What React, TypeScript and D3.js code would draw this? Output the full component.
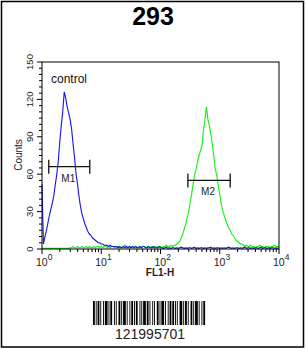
import React from "react";
import * as d3 from "d3";

const title = "293";
const xTickExps = [0, 1, 2, 3, 4];
const yTicks = [0, 30, 60, 90, 120, 150];
const binStep = 0.025; // decades per channel

const blueCounts = [
  52, 4, 10, 15, 21, 27, 32, 37, 43, 52,
  60, 71, 86, 99, 110, 126, 121, 114, 109, 104,
  96, 84, 73, 60, 52, 42, 34, 28, 24, 20,
  17, 14, 12, 11, 9, 8, 7, 6, 5, 5,
  4, 4, 3, 3, 3, 2, 3, 2, 2, 2,
  2, 1, 2, 1, 1, 2, 1, 2, 1, 2,
  1, 2, 1, 2, 1, 1, 2, 1, 2, 2,
  1, 1, 2, 1, 1, 2, 1, 1, 1, 2,
  1, 1, 0.5, 1, 1.5, 0.5, 1, 0.5, 1, 1,
  0.5, 1, 0.5, 1, 1.5, 1, 0.5, 1, 0.5, 1,
  1, 0.5, 1, 1.5, 0.5, 1, 0.5, 1, 1, 0.5,
  1, 0.5, 1, 1, 1.5, 0.5, 1, 0.5, 1, 1,
  0.5, 1, 0.5, 1, 0.5, 1, 1.5, 1, 0.5, 1,
  0.5, 1, 1, 0.5, 1, 0.5, 1, 1.5, 0.5, 1,
  1, 0.5, 1, 0.5, 1, 1, 0.5, 1, 1.5, 0.5,
  1, 1, 0.5, 1, 0.5, 1, 1, 0.5, 1, 0.5,
  1,
];

const greenCounts = [
  0.5, 0.5, 0.5, 0.5, 0.5, 0.5, 0.5, 0.5, 0.5, 0.5,
  0.5, 0.5, 0.5, 0.5, 0.5, 0.5, 0.5, 0.5, 0.5,
  1, 1, 2, 1, 1, 2, 1, 1, 2, 1,
  1, 2, 1, 2, 1, 1, 2, 1, 2, 2,
  1, 2, 1, 2, 3, 1, 2, 1, 2, 2,
  1, 2, 2, 1, 2, 1, 2, 3, 2, 1,
  2, 1, 2, 1, 2, 2, 1, 2, 1, 2,
  2, 1, 2, 2, 1, 2, 1, 2, 2, 1,
  2, 2, 1, 2, 2, 3, 2, 2, 3,
  2, 3, 3, 4, 5, 6, 9, 12, 16, 20,
  25, 30, 37, 44, 52, 59, 64, 70, 75, 79,
  83, 95, 104, 114, 104, 99, 92, 84, 74, 64,
  59, 51, 44, 36, 31, 27, 23, 20, 17, 15,
  12, 11, 9, 7, 6, 5, 4, 4,
  3, 2, 3, 2, 2, 3, 2, 2, 1, 2,
  2, 3, 2, 2, 1, 2, 2, 2, 1, 2,
  2, 3, 2, 2, 2,
];

const markers = [
  { label: "M1", from: 1.3, to: 6.4, level: 66 },
  { label: "M2", from: 290, to: 1500, level: 55 },
];

const barcodeText = "121995701";
const barcodeWidths = [
  2, 1, 1, 1, 2, 1, 1, 2, 1, 1, 3, 1, 1, 1, 2, 2, 1, 1, 1, 2,
  2, 1, 1, 1, 3, 1, 1, 2, 1, 1, 2, 1, 1, 1, 2, 2, 1, 1, 1, 1,
  3, 1, 2, 1, 1, 2, 1, 1, 1, 2, 2, 1, 1, 1, 3, 1, 1, 2, 1, 1,
  2, 1, 2, 1, 1, 1, 1, 2, 3, 1, 1, 1, 2, 1, 1, 2, 2, 1, 1, 1,
  3, 1, 1, 2, 1, 1, 2, 1,
];

const FONT = "'Liberation Sans', Arial, sans-serif";

export default function App() {
  const W = 306, H = 349;
  const left = 42, right = 279, top = 62, bottom = 249;
  const x = d3.scaleLog().domain([1, 1e4]).range([left, right]);
  const y = d3.scaleLinear().domain([0, 150]).range([bottom, top]);

  const mk = (counts: number[]) =>
    d3.line<number>()
      .x((_, i) => x(Math.pow(10, i * binStep)))
      .y((d) => y(d))(counts) as string;

  const minorX: number[] = [];
  for (let e = 0; e < 4; e++) for (let k = 2; k <= 9; k++) minorX.push(k * Math.pow(10, e));
  const minorY = d3.range(0, 151, 5).filter((v) => v % 30 !== 0);

  const total = d3.sum(barcodeWidths);
  const bx = d3.scaleLinear().domain([0, total]).range([93, 206]);
  const bars: { x0: number; x1: number }[] = [];
  let acc = 0;
  barcodeWidths.forEach((w, i) => {
    if (i % 2 === 0) bars.push({ x0: bx(acc), x1: bx(acc + w) });
    acc += w;
  });

  return (
    <svg width={W} height={H} style={{ position: "absolute", left: 0, top: 0 }}>
      <rect x={0} y={0} width={W} height={H} fill="#fff" />
      <rect x={1.5} y={1.5} width={302} height={345.5} fill="none" stroke="#000" strokeWidth={1.5} />
      <text x={153} y={25} textAnchor="middle" fontFamily={FONT} fontWeight="bold" fontSize={25}>{title}</text>

      {/* data */}
      <path d={mk(greenCounts)} fill="none" stroke="#14f014" strokeWidth={1.1} />
      <path d={mk(blueCounts)} fill="none" stroke="#1414f0" strokeWidth={1.1} />

      {/* frame */}
      <rect x={left} y={top} width={right - left} height={bottom - top} fill="none" stroke="#000" strokeWidth={1} />

      {/* y ticks */}
      {yTicks.map((t) => (
        <g key={"y" + t}>
          <line x1={left - 5} x2={left} y1={y(t)} y2={y(t)} stroke="#000" />
          <text transform={`translate(${33},${y(t)}) rotate(-90)`} textAnchor="middle" fontFamily={FONT} fontSize={9.5} fill="#222">{t}</text>
        </g>
      ))}
      {minorY.map((t) => (
        <line key={"my" + t} x1={left - 3} x2={left} y1={y(t)} y2={y(t)} stroke="#000" />
      ))}
      <text transform={`translate(${22},${155}) rotate(-90)`} textAnchor="middle" fontFamily={FONT} fontSize={10} fill="#222">Counts</text>

      {/* x ticks */}
      {xTickExps.map((e) => (
        <g key={"x" + e}>
          <line x1={x(Math.pow(10, e))} x2={x(Math.pow(10, e))} y1={bottom} y2={bottom + 5} stroke="#000" />
          <text x={x(Math.pow(10, e)) - 6} y={266} fontFamily={FONT} fontSize={10.5} fill="#222">
            10
            <tspan dy={-6} fontSize={8.5}>{e}</tspan>
          </text>
        </g>
      ))}
      {minorX.map((v, i) => (
        <line key={"mx" + i} x1={x(v)} x2={x(v)} y1={bottom} y2={bottom + 3} stroke="#000" />
      ))}
      <text x={160} y={276} textAnchor="middle" fontFamily={FONT} fontWeight="bold" fontSize={10} fill="#222">FL1-H</text>

      <text x={51} y={83} fontFamily={FONT} fontSize={12} fill="#111">control</text>

      {/* markers */}
      {markers.map((m) => (
        <g key={m.label} stroke="#111" strokeWidth={1.3}>
          <line x1={x(m.from)} x2={x(m.to)} y1={y(m.level)} y2={y(m.level)} />
          <line x1={x(m.from)} x2={x(m.from)} y1={y(m.level) - 7} y2={y(m.level) + 7} />
          <line x1={x(m.to)} x2={x(m.to)} y1={y(m.level) - 7} y2={y(m.level) + 7} />
          <text x={(x(m.from) + x(m.to)) / 2 - 1} y={y(m.level) + 15} textAnchor="middle" stroke="none" fill="#222" fontFamily={FONT} fontSize={10}>{m.label}</text>
        </g>
      ))}

      {/* barcode */}
      {bars.map((b, i) => (
        <rect key={"b" + i} x={b.x0} y={301} width={b.x1 - b.x0} height={24} fill="#000" />
      ))}
      <text x={150} y={339} textAnchor="middle" fontFamily={FONT} fontSize={14} fill="#222">{barcodeText}</text>
    </svg>
  );
}
